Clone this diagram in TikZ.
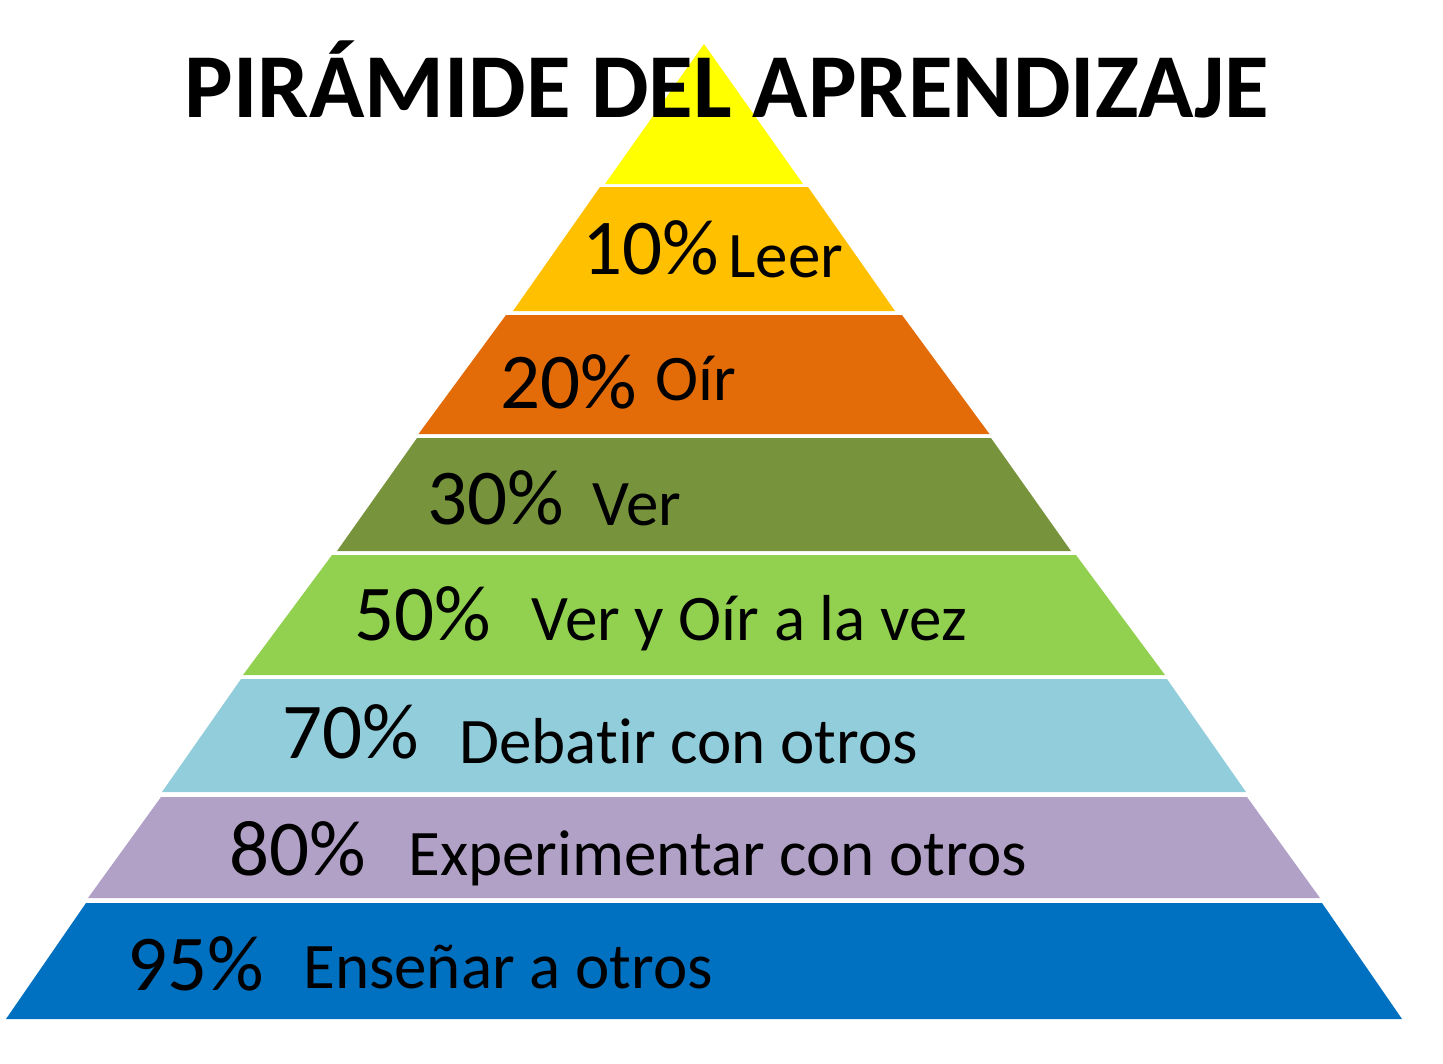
\documentclass[tikz,border=0pt]{standalone}
\usepackage{fontspec}
\setmainfont{Carlito}[Ligatures=NoCommon]
\usetikzlibrary{positioning}

\definecolor{lvA}{HTML}{FFFF00}
\definecolor{lvB}{HTML}{FFC000}
\definecolor{lvC}{HTML}{E36C09}
\definecolor{lvD}{HTML}{77933C}
\definecolor{lvE}{HTML}{92D050}
\definecolor{lvF}{HTML}{92CDDC}
\definecolor{lvG}{HTML}{B2A1C7}
\definecolor{lvH}{HTML}{0070C0}

\tikzset{
  pct/.style={anchor=base west, inner sep=0pt, font=\fontsize{45}{54}\selectfont},
  act/.style={anchor=base west, inner sep=0pt, font=\fontsize{37}{44}\selectfont},
}

\begin{document}
\begin{tikzpicture}[x=0.02cm, y=-0.02cm]
\useasboundingbox (0,0) rectangle (1443,1063);
\foreach \yt/\yb/\wt/\wb/\col in {44/184/0/99/lvA, 187/311/104/191/lvB, 315/434/198/285.5/lvC, 438/551/287/367/lvD, 555/675/372/461/lvE, 679/792/463/542/lvF, 797/898/543/616/lvG, 903/1019/618/698/lvH}
  \fill[\col] ({704-\wt},\yt) -- ({704+\wt},\yt) -- ({704+\wb},\yb) -- ({704-\wb},\yb) -- cycle;
\node[anchor=base, inner sep=0pt, font=\fontsize{52}{62}\selectfont\bfseries] (title) at (727,117) {PIRÁMIDE DEL APRENDIZAJE};
\node[pct] (p10) at (582,274) {10\%};
\node[act] (a10) at (728,277) {Leer};
\node[pct] (p20) at (500,408) {20\%};
\node[act] (a20) at (655,400) {Oír};
\node[pct] (p30) at (427,524) {30\%};
\node[act] (a30) at (592,525) {Ver};
\node[pct] (p50) at (354,640) {50\%};
\node[act] (a50) at (531,640) {Ver y Oír a la vez};
\node[pct] (p70) at (282,758) {70\%};
\node[act] (a70) at (459,763) {Debatir con otros};
\node[pct] (p80) at (229,875) {80\%};
\node[act] (a80) at (408,875) {Experimentar con otros};
\node[pct] (p95) at (127,990) {95\%};
\node[act] (a95) at (303,988) {Enseñar a otros};
\end{tikzpicture}
\end{document}
